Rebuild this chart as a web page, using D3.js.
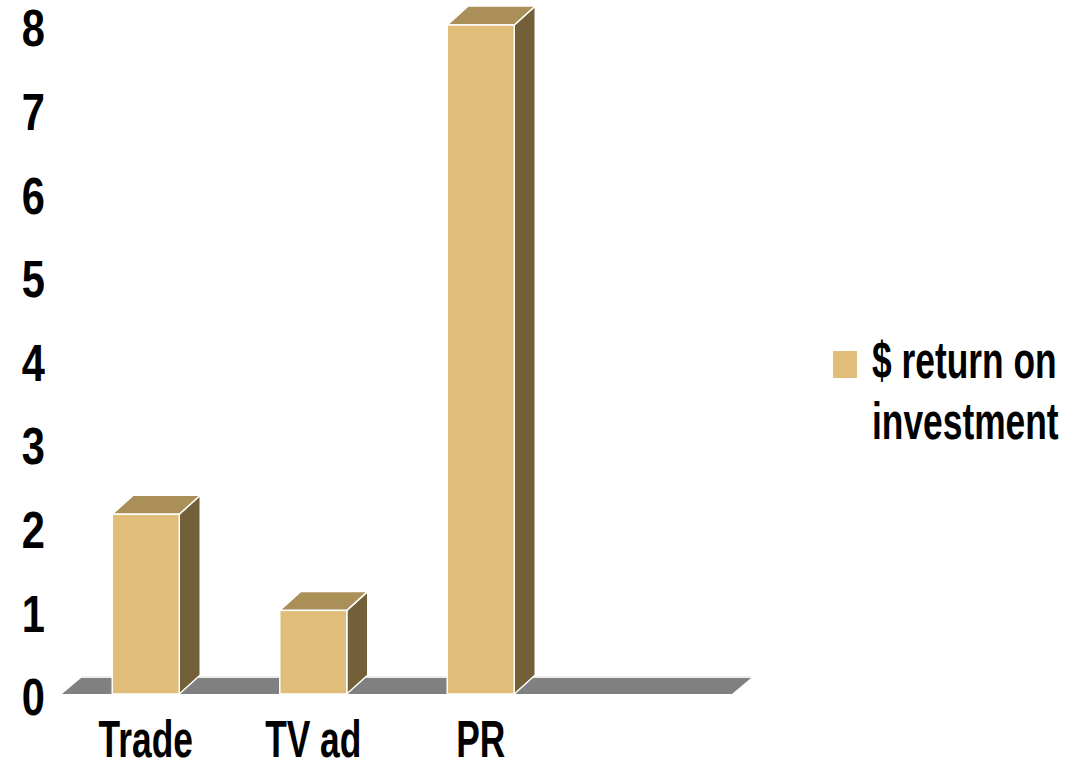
<!DOCTYPE html>
<html>
<head>
<meta charset="utf-8">
<script src="https://cdn.jsdelivr.net/npm/d3@7"></script>
<style>
  body { margin: 0; background: #fff; }
  svg text { font-family: "Liberation Sans Narrow", "Liberation Sans", Arial, sans-serif; font-weight: bold; font-size: 52px; fill: #000; }
</style>
</head>
<body>
<svg id="chart" width="1084" height="769"></svg>
<script>
var categories = ["Trade", "TV ad", "PR"];
var values = [2.15, 1.0, 8.0];
var yTicks = [0, 1, 2, 3, 4, 5, 6, 7, 8];
var seriesName = ["$ return on", "investment"];

var svg = d3.select("#chart");

// the original uses a narrow bold face; squeeze the regular one instead
var wordSqueeze = 0.68, digitSqueeze = 0.8;

// one empty slot after PR, the floor runs on under it
var slots = categories.concat([""]);

var x = d3.scaleBand().domain(slots).range([62, 732]);
var y = d3.scaleLinear().domain([0, 8]).range([694, 25]);

var floorDx = 19, floorDy = -16;
var barDx = 21, barDy = -19;
var barW = x.bandwidth() * 0.4;

// floor
var fl = x.range()[0], fr = x.range()[1], fy = y(0);
svg.append("line")
    .attr("x1", fl + floorDx).attr("x2", fr + floorDx)
    .attr("y1", fy + floorDy - 1).attr("y2", fy + floorDy - 1)
    .attr("stroke", "#e6e6e6").attr("stroke-width", 1.5);
svg.append("path")
    .attr("d", "M" + fl + "," + fy + "L" + fr + "," + fy +
      "L" + (fr + floorDx) + "," + (fy + floorDy) +
      "L" + (fl + floorDx) + "," + (fy + floorDy) + "Z")
    .attr("fill", "#808080");

// bars
var bars = svg.selectAll(".bar")
    .data(categories.map(function(c, i) { return { cat: c, v: values[i] }; }))
  .enter().append("g")
    .attr("class", "bar");

function x0(d) { return x(d.cat) + (x.bandwidth() - barW) / 2; }

bars.append("path")
    .attr("d", function(d) {
      var l = x0(d) + barW, t = y(d.v), b = y(0);
      return "M" + l + "," + b + "L" + (l + barDx) + "," + (b + barDy) +
        "L" + (l + barDx) + "," + (t + barDy) + "L" + l + "," + t + "Z";
    })
    .attr("fill", "#736039")
    .attr("stroke", "#fff").attr("stroke-width", 1.5).attr("stroke-linejoin", "round");

bars.append("path")
    .attr("d", function(d) {
      var l = x0(d), t = y(d.v);
      return "M" + l + "," + t + "L" + (l + barW) + "," + t +
        "L" + (l + barW + barDx) + "," + (t + barDy) +
        "L" + (l + barDx) + "," + (t + barDy) + "Z";
    })
    .attr("fill", "#ab8f59")
    .attr("stroke", "#fff").attr("stroke-width", 1.5).attr("stroke-linejoin", "round");

bars.append("rect")
    .attr("x", x0)
    .attr("y", function(d) { return y(d.v); })
    .attr("width", barW)
    .attr("height", function(d) { return y(0) - y(d.v); })
    .attr("fill", "#e0be7a")
    .attr("stroke", "#fff").attr("stroke-width", 1.5);

// y axis labels
var yAxis = svg.append("g")
    .attr("transform", "translate(45,0)")
    .call(d3.axisLeft(y).tickValues(yTicks).tickSize(0).tickPadding(0).tickFormat(d3.format("d")));
yAxis.select(".domain").remove();
yAxis.selectAll("text")
    .attr("dy", "0.4em")
    .attr("transform", "scale(" + digitSqueeze + ",1)")
    .attr("fill", null);

// x axis labels (kept just inside the bottom edge)
var xAxis = svg.append("g")
    .attr("transform", "translate(0,757)")
    .call(d3.axisBottom(x).tickSize(0).tickPadding(0));
xAxis.select(".domain").remove();
xAxis.selectAll("text")
    .attr("y", 0)
    .attr("dy", 0)
    .attr("transform", "scale(" + wordSqueeze + ",1)")
    .attr("fill", null);

// legend
var legend = svg.append("g").attr("transform", "translate(833,351)");
legend.append("rect")
    .attr("width", 24).attr("height", 27)
    .attr("fill", "#e0be7a");
legend.selectAll("text")
    .data(seriesName)
  .enter().append("text")
    .attr("transform", function(d, i) {
      return "translate(39," + (27 + i * 61) + ") scale(" + wordSqueeze + ",1)";
    })
    .text(function(d) { return d; });
</script>
</body>
</html>
